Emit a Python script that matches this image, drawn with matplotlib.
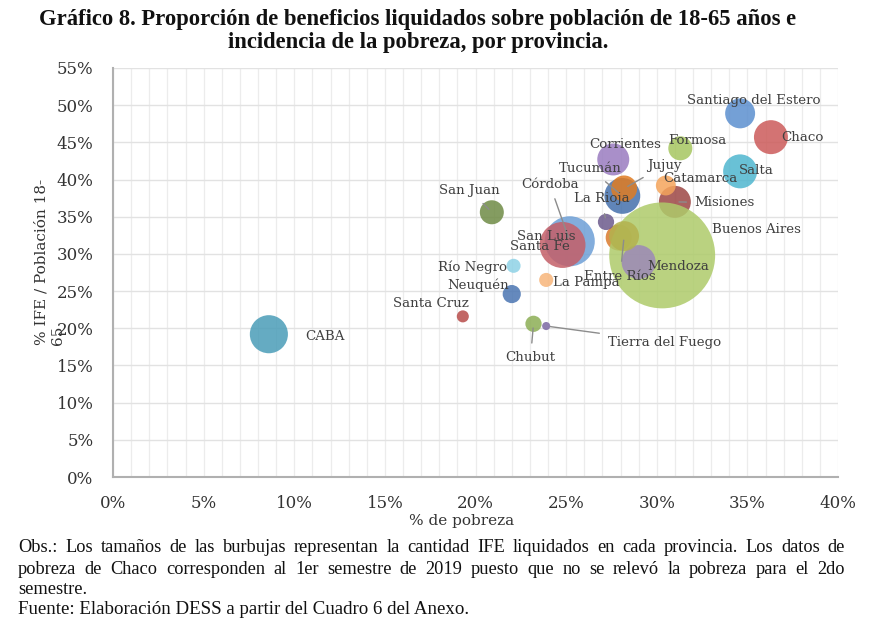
import matplotlib
matplotlib.use("Agg")
import matplotlib.pyplot as plt
from matplotlib.ticker import MultipleLocator, FuncFormatter

# ---------------- data ----------------
provincias = ["Córdoba", "Santa Fe", "San Luis", "Misiones", "Buenos Aires", "Mendoza",
              "Entre Ríos", "CABA", "Santa Cruz", "San Juan", "Río Negro", "Neuquén",
              "Chubut", "Tierra del Fuego", "La Pampa", "La Rioja", "Tucumán", "Jujuy",
              "Corrientes", "Formosa", "Catamarca", "Salta", "Chaco", "Santiago del Estero"]
pobreza = [25.2, 24.8, 27.9, 31.0, 30.3, 29.0,
           28.2, 8.6, 19.3, 20.9, 22.1, 22.0,
           23.2, 23.9, 23.9, 27.2, 28.1, 28.2,
           27.6, 31.3, 30.5, 34.6, 36.3, 34.6]
ife_pob = [31.7, 31.2, 32.2, 37.0, 29.8, 28.9,
           32.4, 19.2, 21.6, 35.6, 28.4, 24.6,
           20.6, 20.3, 26.5, 34.3, 37.8, 38.8,
           42.7, 44.2, 39.2, 41.1, 45.7, 48.9]
ife_miles = [760, 640, 205, 310, 3400, 350,
             270, 440, 44, 175, 60, 100,
             80, 20, 60, 80, 390, 205,
             310, 175, 120, 350, 350, 272]
colores = ["#6d9fd6", "#c45f68", "#da7a2c", "#9c4644", "#aecb6a", "#9c88b8",
           "#b3b24e", "#4a9db8", "#b84c4a", "#6f8b45", "#8ed2e6", "#4a75b2",
           "#8cae55", "#7c68a3", "#f7b57a", "#6c5a8c", "#4470ac", "#e07c22",
           "#9a7cc0", "#a6c660", "#f5a55c", "#4fb6cf", "#cc5b5a", "#5c8fcf"]

xticks = [0, 5, 10, 15, 20, 25, 30, 35, 40]
yticks = [0, 5, 10, 15, 20, 25, 30, 35, 40, 45, 50, 55]

titulo = ("Gráfico 8. Proporción de beneficios liquidados sobre población de 18-65 años e\n"
          "incidencia de la pobreza, por provincia.")
xlabel = "% de pobreza"
ylabel = "% IFE / Población 18-\n65"
obs_lines = [
    "Obs.: Los tamaños de las burbujas representan la cantidad IFE liquidados en cada provincia. Los datos de",
    "pobreza de Chaco corresponden al 1er semestre de 2019 puesto que no se relevó la pobreza para el 2do",
]
obs_last = "semestre."
fuente = "Fuente: Elaboración DESS a partir del Cuadro 6 del Anexo."

# label placement (offsets in pixels from bubble centre, leader line flag)
label_pos = {
    "Santiago del Estero": (14, 13, False), "Chaco": (31, 0, False), "Salta": (16, 1, False),
    "Formosa": (17, 8, False), "Corrientes": (12, 15, False), "Tucumán": (-32, 27, True),
    "Jujuy": (40, 23, True), "Catamarca": (35, 7, False), "Misiones": (50, -1, True),
    "Córdoba": (-20, 57, True), "La Rioja": (-4, 23, True), "San Juan": (-22, 22, True),
    "Buenos Aires": (94, 26, False), "San Luis": (-72, 1, False), "Santa Fe": (-23, -2, False),
    "Río Negro": (-41, -1, False), "Neuquén": (-34, 9, False), "La Pampa": (40, -3, False),
    "Entre Ríos": (-4, -40, True), "Mendoza": (40, -4, False), "Santa Cruz": (-32, 13, False),
    "CABA": (56, -2, False), "Chubut": (-3, -34, True), "Tierra del Fuego": (118, -16, True),
}

W, H = 881, 626
fig = plt.figure(figsize=(W / 100, H / 100), dpi=100)
ax = fig.add_axes([113 / W, 1 - 477 / H, (838 - 113) / W, (477 - 68) / H])

SERIF = ["DejaVu Serif"]

sizes = [v * 1.71 for v in ife_miles]
for i in range(len(provincias)):
    ax.scatter(pobreza[i], ife_pob[i], s=sizes[i], color=colores[i], alpha=0.85,
               edgecolors="none", zorder=3 + i * 0.01)

for i, name in enumerate(provincias):
    dx, dy, leader = label_pos[name]
    kw = {}
    if leader:
        kw["arrowprops"] = dict(arrowstyle="-", color="#8c8c8c", lw=1.0,
                                shrinkA=4, shrinkB=3)
    ax.annotate(name, (pobreza[i], ife_pob[i]), xytext=(dx, dy), textcoords="offset pixels",
                ha="center", va="center", fontsize=9.6, family=SERIF, color="#404040",
                zorder=10, **kw)

ax.set_xlim(0, 40)
ax.set_ylim(0, 55)
ax.xaxis.set_minor_locator(MultipleLocator(1))
ax.set_xticks(xticks)
ax.set_yticks(yticks)
fmt = FuncFormatter(lambda v, p: f"{v:.0f}%")
ax.xaxis.set_major_formatter(fmt)
ax.yaxis.set_major_formatter(fmt)
ax.grid(True, which="both", axis="x", color="#ececec", lw=0.9, zorder=0)
ax.grid(True, which="major", axis="y", color="#e2e2e2", lw=1.0, zorder=0)
ax.set_axisbelow(True)
ax.tick_params(which="both", length=0)
ax.tick_params(axis="x", pad=13, labelsize=12, labelcolor="#333333")
ax.tick_params(axis="y", pad=14, labelsize=12, labelcolor="#333333")
for lbl in ax.get_xticklabels() + ax.get_yticklabels():
    lbl.set_family(SERIF)
for s in ["top", "right"]:
    ax.spines[s].set_visible(False)
for s in ["left", "bottom"]:
    ax.spines[s].set_color("#b0b0b0")
    ax.spines[s].set_linewidth(1.5)

fig.text(462 / W, 1 - 521 / H, xlabel, ha="center", va="center", fontsize=11,
         family=SERIF, color="#333333")
fig.text(50 / W, 1 - 262 / H, ylabel, ha="center", va="center", rotation=90,
         multialignment="left", fontsize=11, family=SERIF, color="#333333")

fig.text(418 / W, 1 - 31 / H, titulo, ha="center", va="center", fontsize=16.3,
         fontweight="bold", family=["Liberation Serif"], linespacing=1.1, color="#111111")

# justified footnote lines
renderer = fig.canvas.get_renderer()
x0, x1 = 18, 845
FN = ["Liberation Serif"]
for line, yp in zip(obs_lines, [548, 570]):
    words = line.split(" ")
    texts = [fig.text(0, 1 - yp / H, w, ha="left", va="center", fontsize=13.2,
                      family=FN, color="#111111") for w in words]
    widths = [t.get_window_extent(renderer).width for t in texts]
    gap = ((x1 - x0) - sum(widths)) / (len(words) - 1)
    xc = x0
    for t, wdt in zip(texts, widths):
        t.set_x(xc / W)
        xc += wdt + gap
fig.text(x0 / W, 1 - 590 / H, obs_last, ha="left", va="center", fontsize=13.2,
         family=FN, color="#111111")
fig.text(x0 / W, 1 - 609 / H, fuente, ha="left", va="center", fontsize=13.6,
         family=FN, color="#111111")

fig.savefig("out.png", dpi=100)
